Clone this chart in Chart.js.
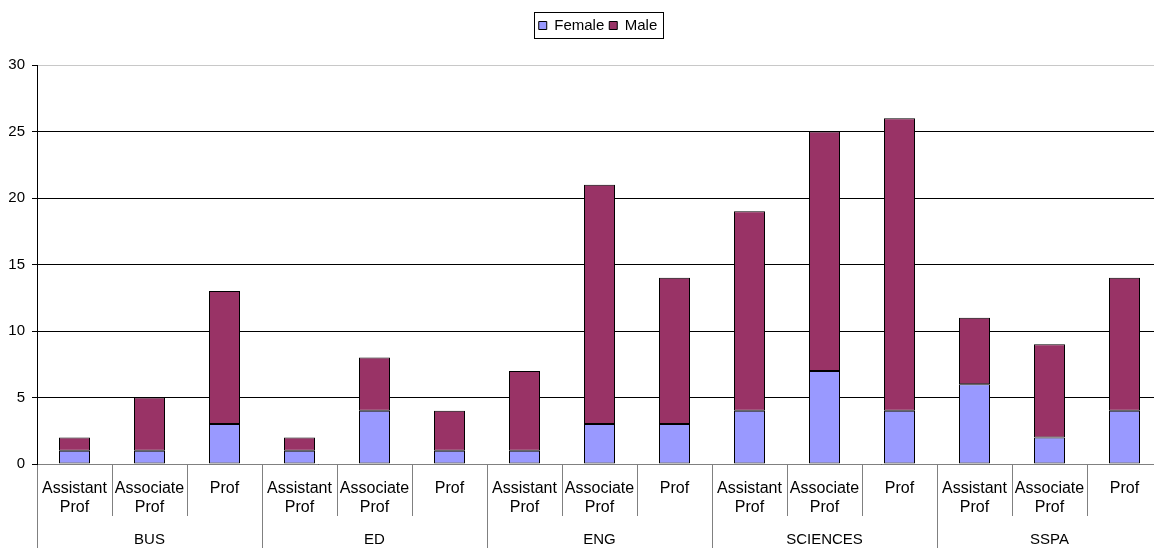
<!DOCTYPE html>
<html>
<head>
<meta charset="utf-8">
<script src="https://cdn.jsdelivr.net/npm/chart.js@4.4.1/dist/chart.umd.min.js"></script>
<style>
  html, body { margin: 0; padding: 0; background: #fff; overflow: hidden; }
  #wrap { width: 1170px; height: 548px; }
</style>
</head>
<body>
<div id="wrap"><canvas id="chart"></canvas></div>
<script>
// data
const categories = [
  ['Assistant', 'Prof'], ['Associate', 'Prof'], 'Prof',
  ['Assistant', 'Prof'], ['Associate', 'Prof'], 'Prof',
  ['Assistant', 'Prof'], ['Associate', 'Prof'], 'Prof',
  ['Assistant', 'Prof'], ['Associate', 'Prof'], 'Prof',
  ['Assistant', 'Prof'], ['Associate', 'Prof'], 'Prof'
];
const groups = ['BUS', 'ED', 'ENG', 'SCIENCES', 'SSPA'];
const female = [1, 1, 3, 1, 4, 1, 1, 3, 3, 4, 7, 4, 6, 2, 4];
const male = [1, 4, 10, 1, 4, 3, 6, 18, 11, 15, 18, 22, 5, 7, 10];
const yMax = 30;
const yStep = 5;

const FONT = "'Liberation Sans', Arial, sans-serif";

// legend sits a bit right of centre and higher up in the original, with a box round it
const legendBorder = {
  id: 'legendBorder',
  afterLayout(chart) {
    const lg = chart.legend;
    if (!lg) return;
    lg.left += 17; lg.right += 17;
    lg.top -= 22; lg.bottom -= 22;
  },
  afterDraw(chart) {
    const boxes = chart.legend && chart.legend.legendHitBoxes;
    if (!boxes || !boxes.length) return;
    let l = Infinity, r = -Infinity, t = Infinity, b = -Infinity;
    boxes.forEach(h => {
      l = Math.min(l, h.left); r = Math.max(r, h.left + h.width);
      t = Math.min(t, h.top); b = Math.max(b, h.top + h.height);
    });
    const ctx = chart.ctx;
    ctx.save();
    ctx.strokeStyle = '#000';
    ctx.lineWidth = 1;
    ctx.strokeRect(Math.round(l - 5) + 0.5, Math.round(t - 6) + 0.5, Math.round(r - l + 10), Math.round(b - t + 11));
    ctx.restore();
  }
};

new Chart(document.getElementById('chart'), {
  type: 'bar',
  data: {
    labels: categories,
    datasets: [
      {
        label: 'Female',
        data: female,
        backgroundColor: '#9999FF',
        borderColor: '#000',
        borderWidth: 1,
        borderSkipped: false,
        barPercentage: 31 / 75,
        categoryPercentage: 1
      },
      {
        label: 'Male',
        data: male,
        backgroundColor: '#993366',
        borderColor: '#000',
        borderWidth: 1,
        borderSkipped: false,
        barPercentage: 31 / 75,
        categoryPercentage: 1
      }
    ]
  },
  options: {
    responsive: true,
    maintainAspectRatio: false,
    animation: false,
    layout: { padding: { top: 35, left: 0, right: 8, bottom: 0 } },
    scales: {
      x: {
        stacked: true,
        position: 'bottom',
        border: { display: true, color: '#808080' },
        grid: { offset: true, drawOnChartArea: false, drawTicks: true, tickLength: 52, color: '#808080' },
        ticks: { color: '#000', font: { family: FONT, size: 16 }, padding: -37, maxRotation: 0, autoSkip: false },
        afterFit(a) { a.height = 52; }
      },
      x2: {
        type: 'category',
        labels: groups,
        position: 'bottom',
        offset: true,
        border: { display: false },
        grid: { offset: true, drawOnChartArea: false, drawTicks: true, tickLength: 34, color: '#808080' },
        ticks: { color: '#000', font: { family: FONT, size: 15 }, padding: -19, maxRotation: 0, autoSkip: false },
        afterFit(a) { a.height = 32; }
      },
      y: {
        stacked: true,
        min: 0,
        max: yMax,
        border: { display: true, color: '#000' },
        grid: {
          color: ctx => ctx.tick && ctx.tick.value === yMax ? '#c8c8c8' : '#000',
          tickLength: 5,
          tickColor: '#000'
        },
        ticks: { stepSize: yStep, color: '#000', font: { family: FONT, size: 15 }, padding: 7 },
        afterFit(a) { a.width = 37; }
      }
    },
    plugins: {
      legend: {
        display: true,
        position: 'top',
        labels: {
          boxWidth: 8,
          boxHeight: 8,
          padding: 5,
          color: '#000',
          font: { family: FONT, size: 15 },
          generateLabels(chart) {
            return chart.data.datasets.map((d, i) => ({
              text: d.label,
              fillStyle: d.backgroundColor,
              strokeStyle: '#000',
              lineWidth: 1,
              hidden: false,
              datasetIndex: i,
              fontColor: '#000'
            }));
          }
        }
      },
      tooltip: { enabled: false }
    }
  },
  plugins: [legendBorder]
});
</script>
</body>
</html>
